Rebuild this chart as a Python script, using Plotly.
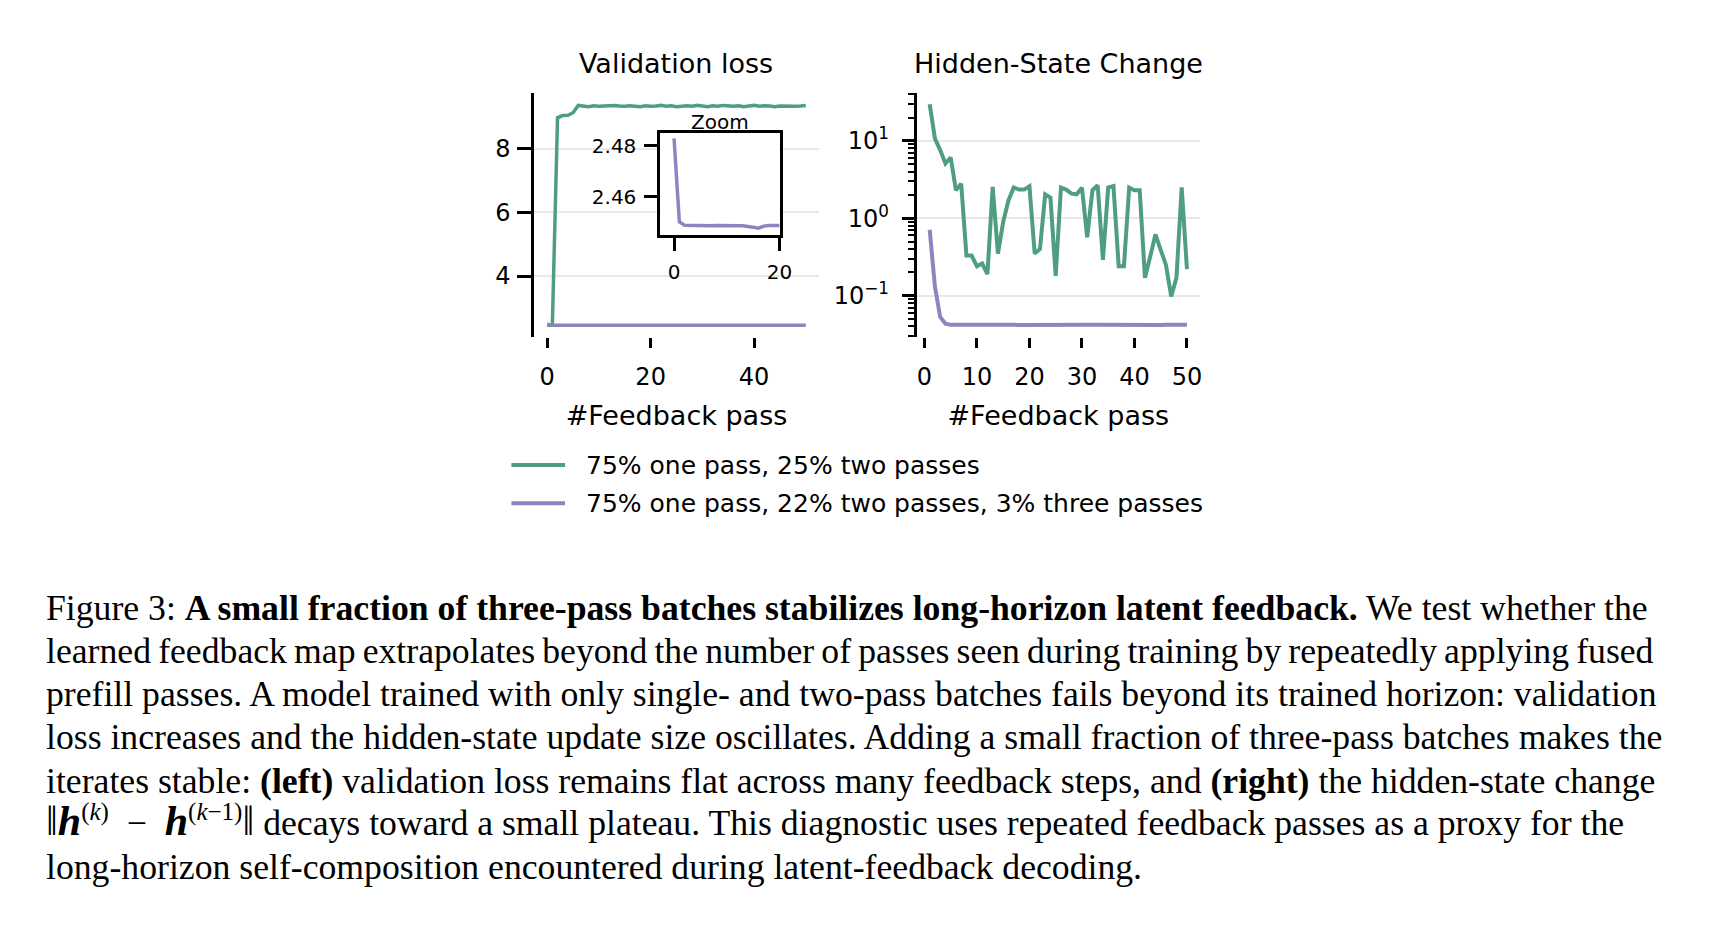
import re
import plotly.graph_objects as go

# ---- data ----
passes_left = list(range(0, 51))
loss_two = [2.45, 2.45, 8.98, 9.05, 9.06, 9.14, 9.37, 9.35, 9.33, 9.36,
            9.34, 9.35, 9.36, 9.37, 9.35, 9.34, 9.36, 9.35, 9.33, 9.36,
            9.34, 9.35, 9.37, 9.34, 9.36, 9.33, 9.35, 9.36, 9.34, 9.37,
            9.35, 9.33, 9.36, 9.34, 9.37, 9.35, 9.34, 9.36, 9.33, 9.35,
            9.37, 9.34, 9.36, 9.35, 9.33, 9.35, 9.34, 9.33, 9.34, 9.35,
            9.37]
loss_three = [2.4830, 2.4501, 2.4487, 2.4486, 2.4485, 2.4486, 2.4486, 2.4485,
              2.4486, 2.4485, 2.4484, 2.4484, 2.4485, 2.4485, 2.4484, 2.4480,
              2.4476, 2.4484, 2.4486, 2.4485, 2.4486, 2.4485, 2.4486, 2.4485,
              2.4484, 2.4485, 2.4486, 2.4485, 2.4484, 2.4485, 2.4486, 2.4485,
              2.4484, 2.4485, 2.4486, 2.4485, 2.4485, 2.4484, 2.4485, 2.4486,
              2.4485, 2.4484, 2.4485, 2.4486, 2.4485, 2.4484, 2.4485, 2.4485,
              2.4486, 2.4485, 2.4485]
zoom_n = 21  # inset shows passes 0..20

passes_right = list(range(1, 51))
hidden_two = [29.8, 10.7, 7.6, 5.1, 6.1, 2.3, 2.8, 0.33, 0.33, 0.24,
              0.26, 0.19, 2.54, 0.35, 0.9, 1.7, 2.5, 2.35, 2.35, 2.6,
              0.35, 0.40, 2.04, 1.85, 0.18, 2.49, 2.35, 2.08, 2.04, 2.49,
              0.57, 2.3, 2.67, 0.29, 2.49, 2.6, 0.24, 0.24, 2.49, 2.3,
              2.3, 0.17, 0.32, 0.62, 0.39, 0.25, 0.098, 0.17, 2.5, 0.22]
hidden_three = [0.71, 0.13, 0.053, 0.0434, 0.0420, 0.0421, 0.0420, 0.0419,
                0.0420, 0.0421, 0.0420, 0.0420, 0.0419, 0.0420, 0.0421, 0.0420,
                0.0420, 0.0419, 0.0420, 0.0420, 0.0421, 0.0420, 0.0419, 0.0420,
                0.0420, 0.0421, 0.0420, 0.0420, 0.0419, 0.0420, 0.0420, 0.0421,
                0.0420, 0.0419, 0.0420, 0.0420, 0.0421, 0.0420, 0.0420, 0.0419,
                0.0420, 0.0420, 0.0421, 0.0420, 0.0419, 0.0420, 0.0420, 0.0421,
                0.0420, 0.0420]

series_names = ["75% one pass, 25% two passes",
                "75% one pass, 22% two passes, 3% three passes"]
series_colors = ["#4f9e7f", "#8b86bf"]

left_xticks = [0, 20, 40]
left_yticks = [4, 6, 8]
right_xticks = [0, 10, 20, 30, 40, 50]
right_yticks = [0.1, 1, 10]
right_yticktext = ["10<sup>\u22121</sup>", "10<sup>0</sup>", "10<sup>1</sup>"]
inset_xticks = [0, 20]
inset_yticks = [2.46, 2.48]

NORM = '<span style="font-size:42px">\u2016</span>'
H_VEC = '<span style="font-size:42px"><b><i>h</i></b></span>'

caption_lines = [
    "Figure 3: <b>A small fraction of three-pass batches stabilizes long-horizon latent feedback.</b> We test whether the",
    "learned feedback map extrapolates beyond the number of passes seen during training by repeatedly applying fused",
    "prefill passes. A model trained with only single- and two-pass batches fails beyond its trained horizon: validation",
    "loss increases and the hidden-state update size oscillates. Adding a small fraction of three-pass batches makes the",
    "iterates stable: <b>(left)</b> validation loss remains flat across many feedback steps, and <b>(right)</b> the hidden-state change",
    NORM + H_VEC + "<sup>(<i>k</i>)</sup>\u2002\u2212\u2002" + H_VEC
    + "<sup>(<i>k</i>\u22121)</sup>" + NORM
    + " decays toward a small plateau. This diagnostic uses repeated feedback passes as a proxy for the",
    "long-horizon self-composition encountered during latent-feedback decoding.",
]
# lines that LaTeX squeezed: narrower word spaces there
squeezed_lines = [1]

# the page body keeps its 8px margin, so the figure is drawn 16px smaller
# and every pixel position below is shifted back by that margin
W, H = 1712, 926
PAD = 8
FW, FH = W - 2 * PAD, H - 2 * PAD


def px(x):
    return (x - PAD) / FW


def py(y):
    return 1 - (y - PAD) / FH


def narrow_spaces(text):
    # swap word spaces for thin spaces, leaving tags alone
    parts = re.split(r"(<[^>]*>)", text)
    return "".join(p if p.startswith("<") else p.replace(" ", "\u2009") for p in parts)


SANS = "DejaVu Sans"
SERIF = "Liberation Serif"

fig = go.Figure()

# left: validation loss
fig.add_trace(go.Scatter(x=passes_left, y=loss_two, mode="lines", name=series_names[0],
                         line=dict(color=series_colors[0], width=3.5),
                         xaxis="x", yaxis="y", showlegend=False))
fig.add_trace(go.Scatter(x=passes_left, y=loss_three, mode="lines", name=series_names[1],
                         line=dict(color=series_colors[1], width=3.5),
                         xaxis="x", yaxis="y", showlegend=False))
# right: hidden-state change
fig.add_trace(go.Scatter(x=passes_right, y=hidden_two, mode="lines", name=series_names[0],
                         line=dict(color=series_colors[0], width=4),
                         xaxis="x2", yaxis="y2", showlegend=False))
fig.add_trace(go.Scatter(x=passes_right, y=hidden_three, mode="lines", name=series_names[1],
                         line=dict(color=series_colors[1], width=4),
                         xaxis="x2", yaxis="y2", showlegend=False))
# inset zoom
fig.add_trace(go.Scatter(x=passes_left[:zoom_n], y=loss_three[:zoom_n], mode="lines",
                         name=series_names[1], line=dict(color=series_colors[1], width=3.5),
                         xaxis="x3", yaxis="y3", showlegend=False))

tickfont = dict(family=SANS, size=24, color="black")
titlefont = dict(family=SANS, size=27, color="black")
insetfont = dict(family=SANS, size=20, color="black")

minor_vals = [m * 10 ** e for e in (-2, -1, 0, 1) for m in range(2, 10)]

fig.update_layout(
    width=FW, height=FH,
    margin=dict(l=0, r=0, t=0, b=0),
    paper_bgcolor="white", plot_bgcolor="white",
    xaxis=dict(domain=[px(538), px(824.5)], anchor="y", range=[-2.5, 52.5],
               tickvals=left_xticks, showline=False, showgrid=False, zeroline=False,
               ticks="outside", ticklen=10, tickwidth=3, tickcolor="black",
               tickfont=tickfont, ticklabelstandoff=8,
               title=dict(text="#Feedback pass", font=titlefont, standoff=16)),
    yaxis=dict(domain=[py(337), py(93)], anchor="x", range=[2.08, 9.76],
               tickvals=left_yticks, showline=True, linewidth=3, linecolor="black",
               ticks="outside", ticklen=14, tickwidth=3, tickcolor="black",
               tickfont=tickfont, ticklabelstandoff=2,
               showgrid=True, gridcolor="#e8e8e8", gridwidth=1.5, zeroline=False),
    xaxis2=dict(domain=[px(923.3), px(1208.3)], anchor="y2", range=[-1.45, 52.45],
                tickvals=right_xticks, showline=False, showgrid=False, zeroline=False,
                ticks="outside", ticklen=10, tickwidth=3, tickcolor="black",
                tickfont=tickfont, ticklabelstandoff=8,
                title=dict(text="#Feedback pass", font=titlefont, standoff=16)),
    yaxis2=dict(domain=[py(336.7), py(93.3)], anchor="x2", type="log", range=[-1.53, 1.615],
                tickvals=right_yticks, ticktext=right_yticktext,
                showline=True, linewidth=3, linecolor="black",
                ticks="outside", ticklen=12, tickwidth=2.5, tickcolor="black",
                tickfont=tickfont, ticklabelstandoff=8,
                showgrid=True, gridcolor="#e8e8e8", gridwidth=1.5, zeroline=False,
                minor=dict(tickmode="array", tickvals=minor_vals, ticks="outside",
                           ticklen=6, tickwidth=2, tickcolor="black", showgrid=False)),
    xaxis3=dict(domain=[px(665), px(785.3)], anchor="y3", range=[-2.6, 20.05],
                tickvals=inset_xticks, showline=True, mirror=True, linewidth=3,
                linecolor="black", showgrid=False, zeroline=False,
                ticks="outside", ticklen=13, tickwidth=3, tickcolor="black",
                tickfont=insetfont, ticklabelstandoff=4),
    yaxis3=dict(domain=[py(235), py(133.3)], anchor="x3", range=[2.4449, 2.485],
                tickvals=inset_yticks, tickformat=".2f", showline=True, mirror=True,
                linewidth=3, linecolor="black", showgrid=False, zeroline=False,
                ticks="outside", ticklen=13, tickwidth=3, tickcolor="black",
                tickfont=insetfont, ticklabelstandoff=4),
)

annotations = [
    dict(text="Validation loss", x=px(681), y=py(63), xref="paper", yref="paper",
         xanchor="center", yanchor="middle", showarrow=False, font=titlefont),
    dict(text="Hidden-State Change", x=px(1066), y=py(63), xref="paper", yref="paper",
         xanchor="center", yanchor="middle", showarrow=False, font=titlefont),
    dict(text="Zoom", x=px(725), y=py(121.5), xref="paper", yref="paper",
         xanchor="center", yanchor="middle", showarrow=False, font=insetfont),
]

# legend drawn by hand so the sample lines match the reference length
shapes = []
legend_rows = [465, 503.3]
for name, color, row in zip(series_names, series_colors, legend_rows):
    shapes.append(dict(type="line", xref="paper", yref="paper",
                       x0=px(515), x1=px(569), y0=py(row), y1=py(row),
                       line=dict(color=color, width=4)))
    annotations.append(dict(text=name, x=px(588), y=py(row), xref="paper", yref="paper",
                            xanchor="left", yanchor="middle", showarrow=False,
                            font=dict(family=SANS, size=25, color="black")))

# caption, one annotation per line
for i, line in enumerate(caption_lines):
    if i in squeezed_lines:
        line = narrow_spaces(line)
    baseline = 620.5 + 43.3 * i
    annotations.append(dict(text=line, x=px(44), y=py(baseline + 9), xref="paper",
                            yref="paper", xanchor="left", yanchor="bottom",
                            showarrow=False, align="left",
                            font=dict(family=SERIF, size=35.7, color="black")))

fig.update_layout(annotations=annotations, shapes=shapes)

fig.write_html("out.html")
